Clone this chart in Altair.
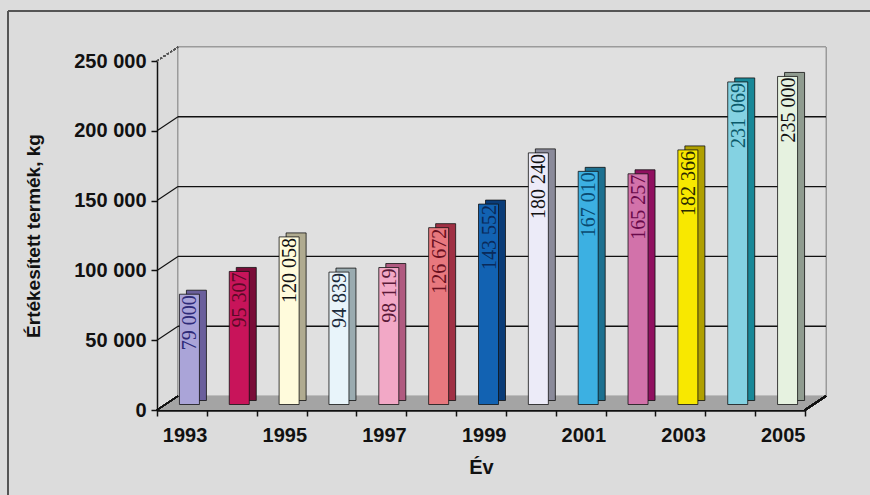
import altair as alt
import pandas as pd

# Yearly sold product (kg)
years = ["1993", "1994", "1995", "1996", "1997", "1998", "1999",
         "2000", "2001", "2002", "2003", "2004", "2005"]
values = [79000, 95307, 120058, 94839, 98119, 126672, 143552,
          180240, 167010, 165257, 182366, 231069, 235000]
face_colors = ["#aaa4d8", "#c8145a", "#fffbdc", "#e8f4fa", "#f2a8c6", "#e8787e",
               "#1262b2", "#ecebf8", "#3cb0e2", "#d272aa", "#f8e800", "#84d2e2",
               "#e6f2e0"]
side_colors = ["#6a5f9c", "#7a0d38", "#b0ab90", "#9aabb0", "#b05a80", "#a03044",
               "#0a3c78", "#8a8a9a", "#1c7090", "#901060", "#b0a000", "#188898",
               "#909c90"]
text_colors = ["#2e2a78", "#5a0a26", "#111111", "#1a2a3a", "#5a1a38", "#6a1020",
               "#0a2a5a", "#111111", "#0a4a70", "#6a0a4a", "#2a2a00", "#0a5a6a",
               "#111111"]
y_ticks = [0, 50000, 100000, 150000, 200000, 250000]

W, H = 648, 349          # front plane of the plot
DX, DY = 21, -14         # depth of the 3D box
BX, BY = 7.5, -5.5       # bar front face position inside the box
SX, SY = 7, -4           # bar depth
BAR_W = 20
FONT = "Liberation Sans"

df = pd.DataFrame({
    "year": years,
    "value": values,
    "face": face_colors,
    "side": side_colors,
    "tcol": text_colors,
    "label": [f"{v:,}".replace(",", " ") for v in values],
})

x_scale = alt.Scale(domain=years, paddingInner=0, paddingOuter=0)
y_scale = alt.Scale(domain=[0, 250000], nice=False, zero=True)

grid_df = pd.DataFrame({"v": y_ticks[1:-1]})
diag_df = pd.DataFrame({"v": y_ticks[1:-1]})

# outer frame (top and left edges)
frame_left = alt.Chart(df).mark_rule(color="#555555", strokeWidth=2).encode(
    x=alt.value(-149), y=alt.value(-50), y2=alt.value(H + 100))
frame_top = alt.Chart(df).mark_rule(color="#555555", strokeWidth=2).encode(
    x=alt.value(-149), x2=alt.value(W + 80), y=alt.value(-50))

# back wall
wall = alt.Chart(df).mark_rect(
    fill="#e0e0e0", stroke="#9a9a9a", strokeWidth=1,
    yOffset=DY, y2Offset=DY).encode(
    x=alt.value(DX), x2=alt.value(W + DX),
    y=alt.Y(datum=250000, scale=y_scale),
    y2=alt.datum(0))

# horizontal gridlines on the back wall
grid = alt.Chart(grid_df).mark_rule(color="#111111", strokeWidth=1.4, yOffset=DY).encode(
    x=alt.value(DX), x2=alt.value(W + DX),
    y=alt.Y("v:Q", scale=y_scale))

# gridlines running along the left side wall
diag = alt.Chart(diag_df).mark_rule(color="#111111", strokeWidth=1.2, y2Offset=DY).encode(
    x=alt.value(0), x2=alt.value(DX),
    y=alt.Y("v:Q", scale=y_scale), y2="v:Q")
diag_top = alt.Chart(df).mark_rule(color="#555555", strokeWidth=1.2,
                                   strokeDash=[2, 2], y2Offset=DY).encode(
    x=alt.value(0), x2=alt.value(DX),
    y=alt.Y(datum=250000, scale=y_scale), y2=alt.datum(250000))

# floor (parallelogram in pixel space)
floor_df = pd.DataFrame({
    "px": [0, DX, W, W + DX],
    "top": [H, H + DY, H + DY, H + DY],
    "bot": [H, H, H, H + DY],
})
floor = alt.Chart(floor_df).mark_area(color="#a4a4a4", opacity=1).encode(
    x=alt.X("px:Q", scale=None),
    y=alt.Y("top:Q", scale=None),
    y2="bot:Q")
floor_left = alt.Chart(df).mark_rule(color="#111111", strokeWidth=1.2, y2Offset=DY).encode(
    x=alt.value(0), x2=alt.value(DX),
    y=alt.Y(datum=0, scale=y_scale), y2=alt.datum(0))
floor_right = alt.Chart(df).mark_rule(color="#111111", strokeWidth=1.6, y2Offset=DY).encode(
    x=alt.value(W), x2=alt.value(W + DX),
    y=alt.Y(datum=0, scale=y_scale), y2=alt.datum(0))

# bar depth (side and top faces)
bar_side = alt.Chart(df).mark_bar(
    size=BAR_W, xOffset=BX + SX, yOffset=BY + SY, y2Offset=BY + SY,
    stroke="#111111", strokeWidth=0.8).encode(
    x=alt.X("year:N", scale=x_scale),
    y=alt.Y("value:Q", scale=y_scale),
    y2=alt.datum(0),
    fill=alt.Fill("side:N", scale=None))

# bar front faces
bar_face = alt.Chart(df).mark_bar(
    size=BAR_W, xOffset=BX, yOffset=BY, y2Offset=BY,
    stroke="#111111", strokeWidth=0.8).encode(
    x=alt.X("year:N", scale=x_scale,
            axis=alt.Axis(
                title="Év", titleFont=FONT, titleFontSize=20, titleFontWeight="bold",
                titleColor="#111111", titlePadding=12,
                labelExpr="toNumber(datum.value) % 2 == 1 ? datum.value : ''",
                labelFont=FONT, labelFontSize=20, labelFontWeight="bold",
                labelColor="#111111", labelAngle=0, labelPadding=19,
                labelOffset=24.9,
                tickBand="extent", tickSize=6, tickColor="#111111", tickWidth=1.5,
                domainColor="#111111", domainWidth=2.5)),
    y=alt.Y("value:Q", scale=y_scale,
            axis=alt.Axis(
                values=y_ticks, grid=False,
                title="Értékesített termék, kg", titleFont=FONT, titleFontSize=19,
                titleFontWeight="bold", titleColor="#111111", titleX=-114,
                labelExpr="replace(format(datum.value, ','), ',', ' ')",
                labelFont=FONT, labelFontSize=20, labelFontWeight="bold",
                labelColor="#111111", labelPadding=5,
                tickSize=6, tickColor="#111111", tickWidth=1.5,
                domainColor="#111111", domainWidth=1.5)),
    y2=alt.datum(0),
    fill=alt.Fill("face:N", scale=None))

# value labels written up the bars
labels = alt.Chart(df).mark_text(
    angle=270, align="right", baseline="middle",
    font="Liberation Serif", fontSize=20,
    xOffset=BX + 1, yOffset=BY + 1).encode(
    x=alt.X("year:N", scale=x_scale),
    y=alt.Y("value:Q", scale=y_scale),
    text="label:N",
    color=alt.Color("tcol:N", scale=None))

chart = alt.layer(
    frame_left, frame_top, wall, grid, diag, diag_top, floor, floor_left,
    floor_right, bar_side, bar_face, labels
).properties(
    width=W, height=H,
    background="#dcdcdc",
    padding={"left": 157, "top": 61, "right": 65, "bottom": 85},
    autosize=alt.AutoSizeParams(type="none"),
).configure_view(stroke=None)

chart.save("out.html", embed_options={"renderer": "svg", "actions": False})
